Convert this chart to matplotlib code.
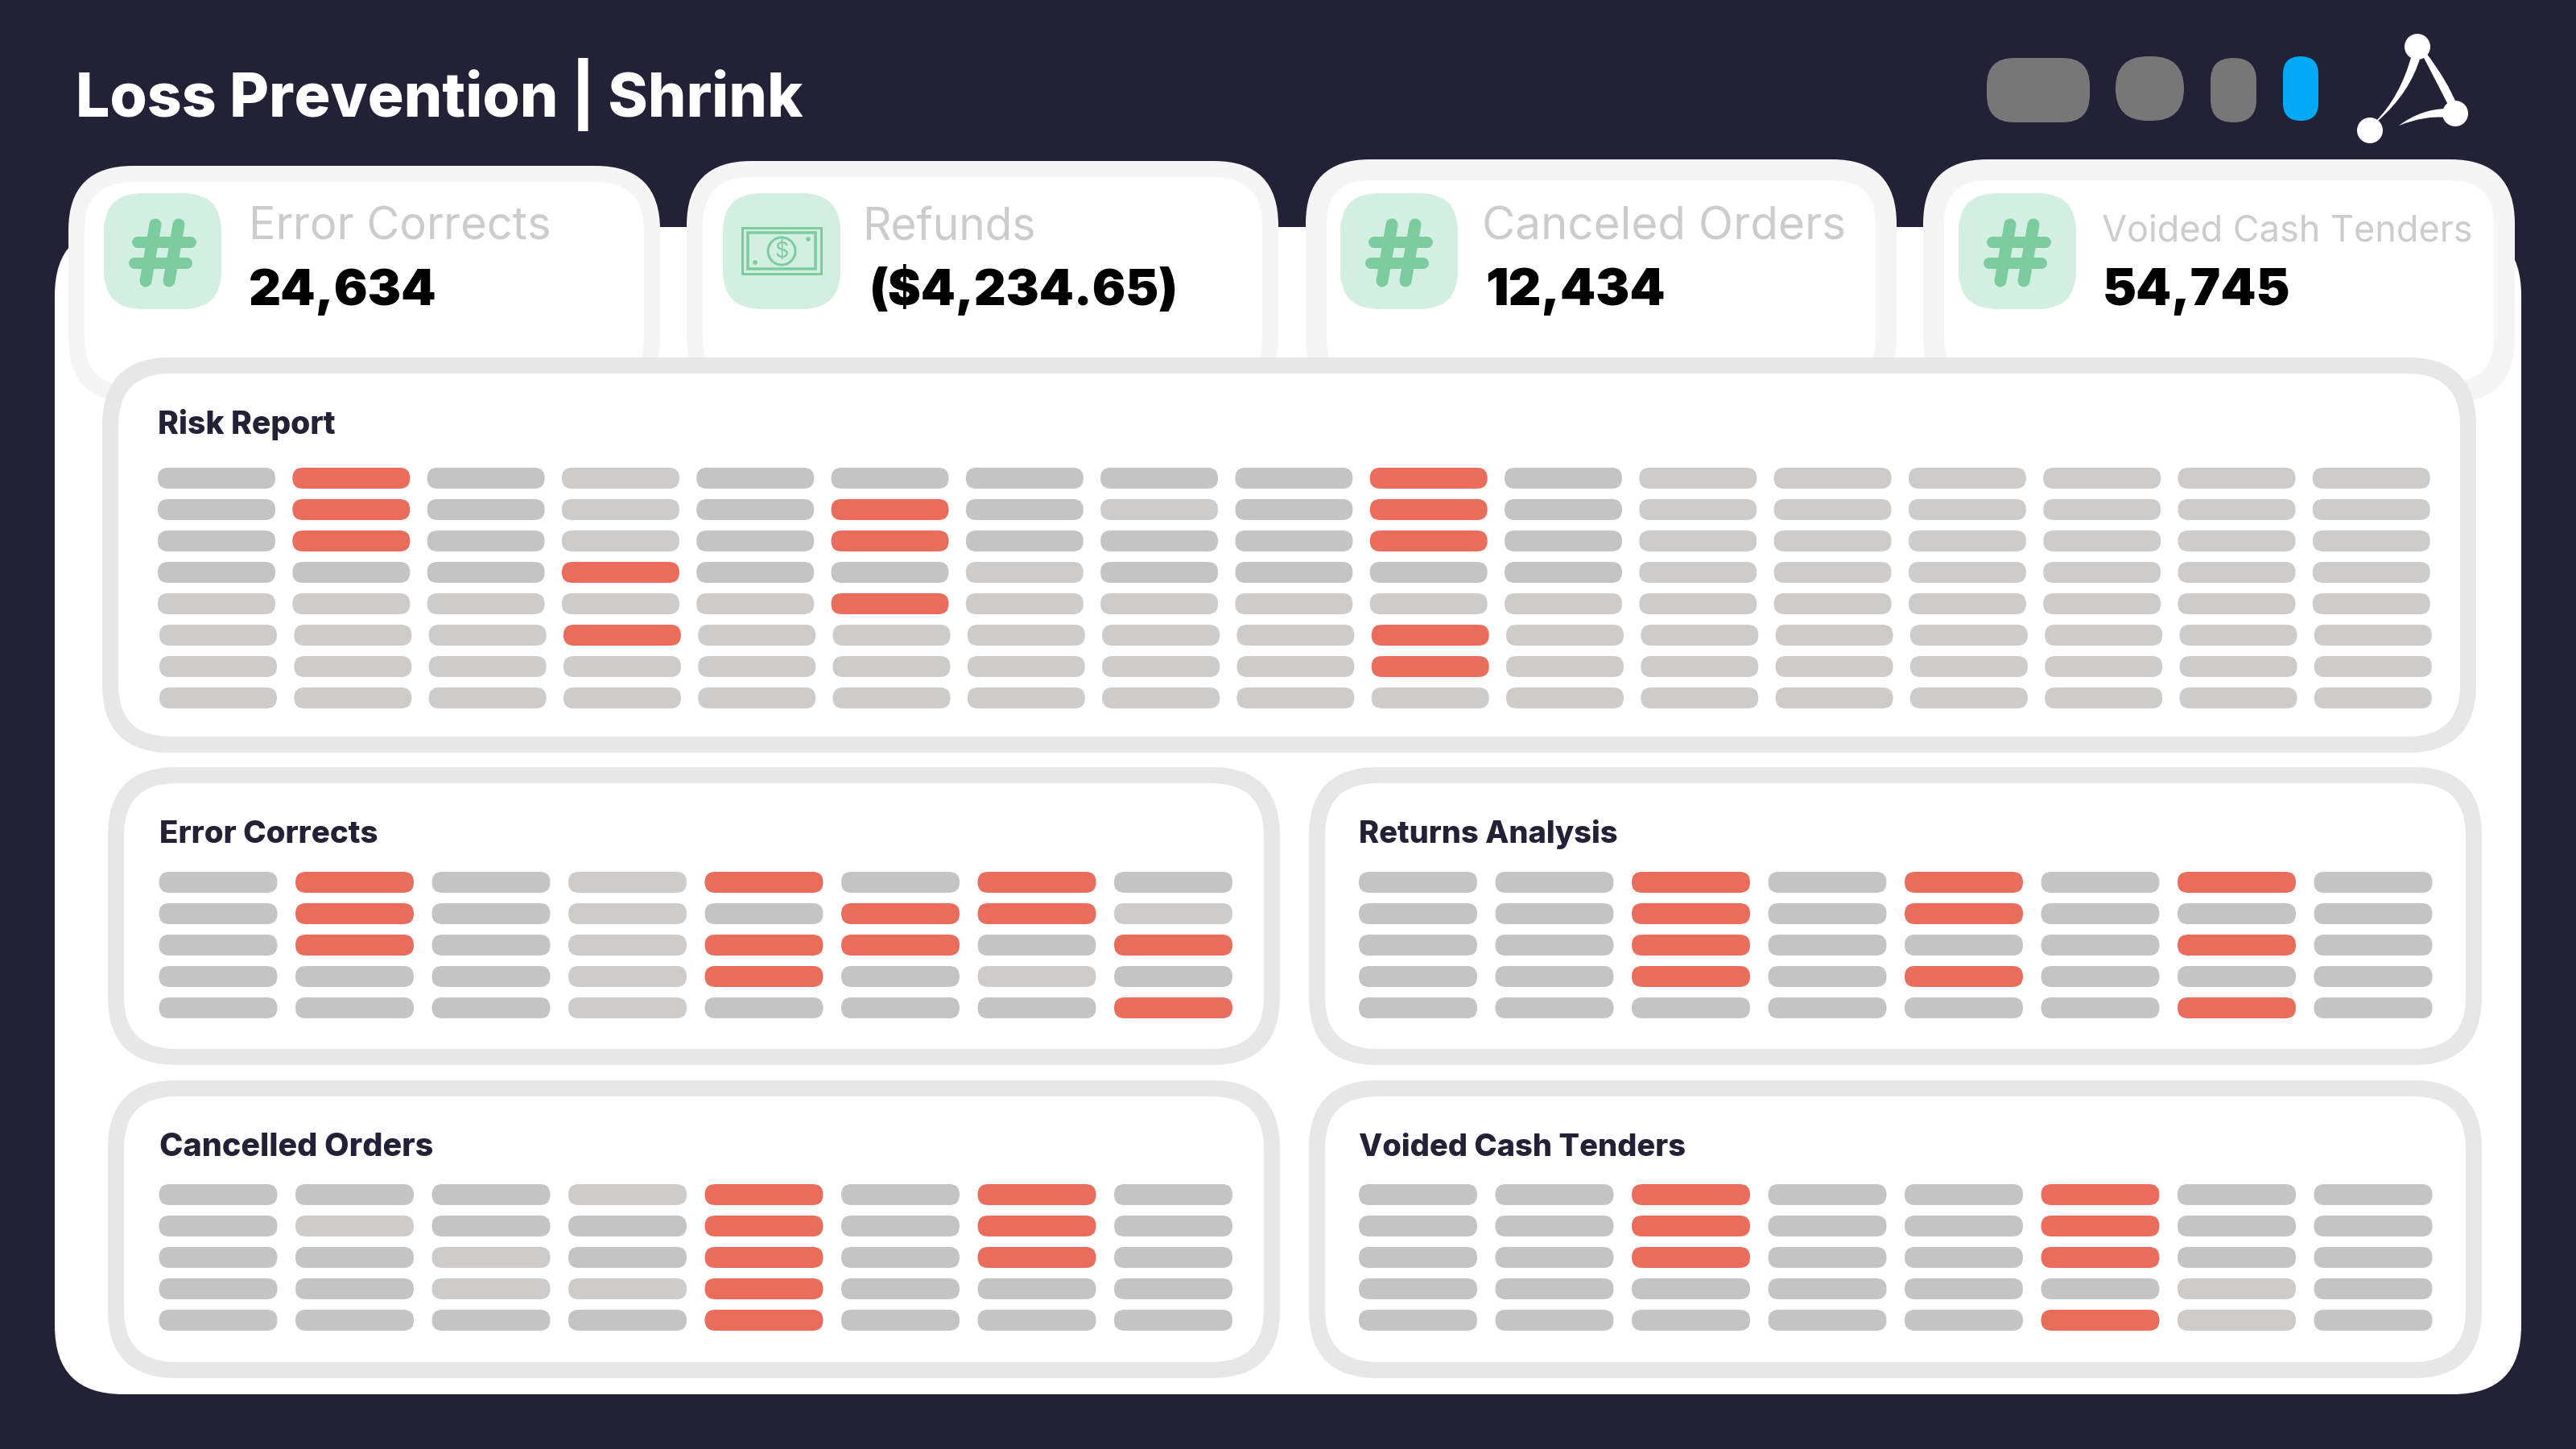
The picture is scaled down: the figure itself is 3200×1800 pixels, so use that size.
# -*- coding: utf-8 -*-
import matplotlib
matplotlib.use('Agg')
import matplotlib.pyplot as plt
from matplotlib.patches import FancyBboxPatch, Circle, PathPatch, Rectangle
from matplotlib.path import Path

# dashboard texts
title = 'Loss Prevention | Shrink'
card_labels = ['Error Corrects', 'Refunds', 'Canceled Orders', 'Voided Cash Tenders']
card_values = ['24,634', '($4,234.65)', '12,434', '54,745']

# status of each pill, one string per row: R = flagged, D = normal, L = light
risk_report = [
    'DRDLDDDDDRDLLLLLL',
    'DRDLDRDLDRDLLLLLL',
    'DRDLDRDDDRDLLLLLL',
    'DDDRDDLDDDDLLLLLL',
    'LLLLLRLLLLLLLLLLL',
    'LLLRLLLLLRLLLLLLL',
    'LLLLLLLLLRLLLLLLL',
    'LLLLLLLLLLLLLLLLL',
]
error_corrects = ['DRDLRDRD', 'DRDLDRRL', 'DRDLRRDR', 'DDDLRDLD', 'DDDLDDDR']
returns_analysis = ['DDRDRDRD', 'DDRDRDDD', 'DDRDDDRD', 'DDRDRDDD', 'DDDDDDRD']
cancelled_orders = ['DDDLRDRD', 'DLDDRDRD', 'DDLDRDRD', 'DDLLRDDD', 'DDDDRDDD']
voided_cash_tenders = ['DDRDDRDD', 'DDRDDRDD', 'DDRDDRDD', 'DDDDDDLD', 'DDDDDRLD']

BG = '#222136'
PILL = {'D': '#C4C4C4', 'L': '#CDCCCA', 'R': '#EA6D5C'}
MINT = '#D3EFE1'
GREEN = '#7DCCA0'
FONT = 'Inter'


def px(size):
    # figure is 100 dpi
    return size * 0.72


def rbox(ax, x0, y0, x1, y1, r, color, z=1):
    p = FancyBboxPatch((x0, y0), x1 - x0, y1 - y0, boxstyle='round,pad=0,rounding_size=%s' % r,
                       fc=color, ec='none', lw=0, zorder=z)
    ax.add_patch(p)


def framed(ax, x0, y0, x1, y1, r, stroke, color, z=1):
    rbox(ax, x0, y0, x1, y1, r, color, z)
    rbox(ax, x0 + stroke, y0 + stroke, x1 - stroke, y1 - stroke, r - stroke, 'white', z)


def pills(ax, rows, x0, y0, pitch_x, pitch_y=39, w=147, h=26, shift_from=None):
    for i, row in enumerate(rows):
        for j, status in enumerate(row):
            x = x0 + j * pitch_x
            if shift_from is not None and i >= shift_from:
                x += 2
            y = y0 + i * pitch_y
            rbox(ax, x, y, x + w, y + h, 13, PILL[status], 6)


def hash_icon(ax, x0):
    # x0 is the left of the mint square
    for (a, b, c, d) in [(64, 39, 52, 109), (93, 39, 81, 109)]:
        ax.plot([x0 + a, x0 + c], [240 + b, 240 + d], color=GREEN, lw=px(15), solid_capstyle='round', zorder=4)
    for (a, b, c) in [(42, 107.5, 61), (38, 103, 87)]:
        ax.plot([x0 + a, x0 + b], [240 + c, 240 + c], color=GREEN, lw=px(14), solid_capstyle='round', zorder=4)


def bill_icon(ax):
    ax.add_patch(Rectangle((922, 283), 98, 57, fc='none', ec=GREEN, lw=px(3), zorder=4))
    ax.add_patch(Rectangle((929, 289), 84, 45, fc='none', ec=GREEN, lw=px(3.5), zorder=4))
    ax.add_patch(Circle((971, 312), 17, fc='none', ec=GREEN, lw=px(3), zorder=4))
    ax.add_patch(Circle((1004, 297), 2.8, fc=GREEN, ec='none', zorder=4))
    ax.add_patch(Circle((938, 326), 2.8, fc=GREEN, ec='none', zorder=4))
    ax.text(971, 312, '$', color=GREEN, fontsize=px(27), family=FONT, ha='center', va='center', zorder=4)


def logo(ax):
    for c in [(3003, 58), (2944, 162), (3050, 141)]:
        ax.add_patch(Circle(c, 16, fc='white', ec='none', zorder=4))
    legs = [
        [(2996, 68), (2982, 120), (2950, 152), (2954, 150), (2994, 115), (3007, 70), (2996, 68)],
        [(3009, 68), (3032, 112), (3042, 132), (3052, 130), (3040, 100), (3014, 66), (3009, 68)],
        [(2980, 156), (3008, 135), (3040, 135), (3040, 146), (3012, 143), (2980, 156), (2980, 156)],
    ]
    codes = [Path.MOVETO, Path.CURVE3, Path.CURVE3, Path.LINETO, Path.CURVE3, Path.CURVE3, Path.CLOSEPOLY]
    for verts in legs:
        ax.add_patch(PathPatch(Path(verts, codes), fc='white', ec='none', zorder=4))


fig = plt.figure(figsize=(32, 18), dpi=100, facecolor=BG)
ax = fig.add_axes([0, 0, 1, 1])
ax.set_xlim(0, 3200)
ax.set_ylim(1800, 0)
ax.axis('off')

# header
ax.text(94, 145, title, color='white', fontsize=px(75), family=FONT, weight=800, va='baseline', ha='left')
rbox(ax, 2468, 72, 2596, 152, 34, '#777777')
rbox(ax, 2628, 70, 2713, 150, 40, '#777777')
rbox(ax, 2746, 72, 2803, 152, 28, '#777777')
rbox(ax, 2836, 70, 2880, 150, 22, '#04A9F5')
logo(ax)

# main white sheet
rbox(ax, 68, 282, 3132, 1732, 85, 'white', 2)

# kpi cards
cards = [(85, 206, 820, 20), (853, 200, 1588, 20), (1622, 198, 2356, 26), (2389, 198, 3124, 26)]
icon_x = [129, 898, 1665, 2433]
label_x = [309, 1071, 1841, 2611]
label_base = [297, 297, 297, 300]
label_size = [56, 55, 56.5, 45]
value_x = [309, 1079, 1845, 2612]
value_size = [62, 61.5, 63, 63]
for i in range(4):
    x0, y0, x1, s = cards[i]
    framed(ax, x0, y0, x1, 500, 80, s, '#F5F5F5', 3)
    rbox(ax, icon_x[i], 240, icon_x[i] + 146, 384, 48, MINT, 3.5)
    ax.text(label_x[i], label_base[i], card_labels[i], color='#CDCCCA', fontsize=px(label_size[i]), family=FONT,
            va='baseline', ha='left', zorder=4)
    ax.text(value_x[i], 379, card_values[i], color='black', fontsize=px(value_size[i]), family=FONT, weight=900,
            va='baseline', ha='left', zorder=4)
    if i == 1:
        bill_icon(ax)
    else:
        hash_icon(ax, icon_x[i])

# report panels
framed(ax, 127, 444, 3076, 935, 85, 20, '#E7E7E7', 5)
framed(ax, 134, 953, 1590, 1323, 85, 20, '#E7E7E7', 5)
framed(ax, 1626, 953, 3083, 1323, 85, 20, '#E7E7E7', 5)
framed(ax, 134, 1342, 1590, 1712, 85, 20, '#E7E7E7', 5)
framed(ax, 1626, 1342, 3083, 1712, 85, 20, '#E7E7E7', 5)

pills(ax, risk_report, 196, 581, 167.3, w=146, shift_from=5)
pills(ax, error_corrects, 197.5, 1083, 169.5)
pills(ax, returns_analysis, 1688, 1083, 169.5)
pills(ax, cancelled_orders, 197.5, 1471, 169.5)
pills(ax, voided_cash_tenders, 1688, 1471, 169.5)

panel_titles = ['Risk Report', 'Error Corrects', 'Returns Analysis', 'Cancelled Orders', 'Voided Cash Tenders']
panel_pos = [(196, 539), (198, 1047), (1688, 1047), (198, 1436), (1688, 1436)]
panel_size = [39, 38.5, 38, 39.5, 38]
for name, (x, y), size in zip(panel_titles, panel_pos, panel_size):
    ax.text(x, y, name, color=BG, fontsize=px(size), family=FONT, weight=800, va='baseline', ha='left', zorder=7)

fig.savefig('out.png', dpi=100, facecolor=BG)
